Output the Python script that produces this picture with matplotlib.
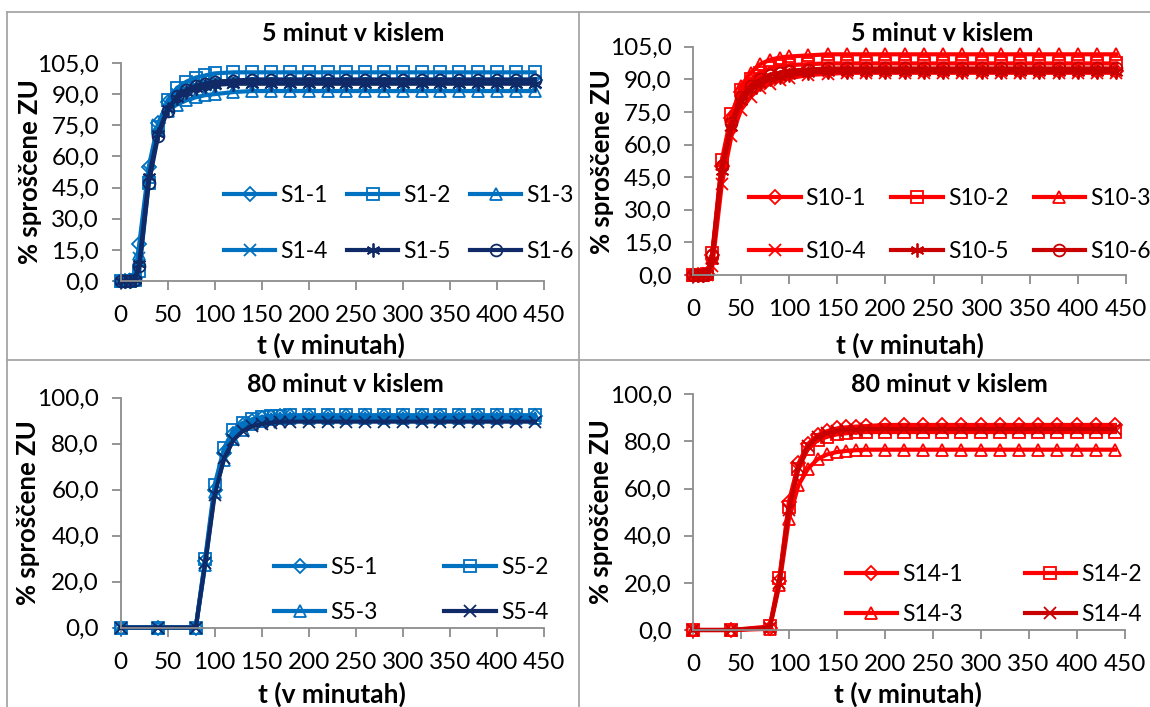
import matplotlib
matplotlib.use("Agg")
import matplotlib.pyplot as plt
from matplotlib.lines import Line2D
from matplotlib.ticker import FuncFormatter

plt.rcParams['font.family'] = ['Lato', 'DejaVu Sans']

# ---------------- data ----------------
t_top = [0, 5, 10, 15, 20, 30, 40, 50, 60, 70, 80, 90, 100, 120, 140, 160, 180,
         200, 220, 240, 260, 280, 300, 320, 340, 360, 380, 400, 420, 440]
t_bot = [0, 40, 80, 90, 100, 110, 120, 130, 140, 150, 160, 170, 180,
         200, 220, 240, 260, 280, 300, 320, 340, 360, 380, 400, 420, 440]

s1_labels = ["S1-1", "S1-2", "S1-3", "S1-4", "S1-5", "S1-6"]
s1_1 = [0, 0, 0, 1.5, 18, 55, 76, 86, 90, 92.5, 94, 95, 96, 96.5, 97, 97, 97,
        97, 97, 97, 97, 97, 97, 97, 97, 97, 97, 97, 97, 97]
s1_2 = [0, 0, 0, 0.5, 5, 47, 74, 87, 93, 96, 98, 99, 100, 100.5, 100.5, 100.5, 100.5,
        100.5, 100.5, 100.5, 100.5, 100.5, 100.5, 100.5, 100.5, 100.5, 100.5, 100.5, 100.5, 100.5]
s1_3 = [0, 0, 0, 1, 13, 50, 73, 82, 85, 87, 88.5, 89.5, 90, 91, 91.5, 91.5, 91.5,
        91.5, 91.5, 91.5, 91.5, 91.5, 91.5, 91.5, 91.5, 91.5, 91.5, 91.5, 91.5, 91.5]
s1_4 = [0, 0, 0, 1, 11, 53, 75, 85, 90, 92.5, 94, 94.5, 95, 95.5, 95.5, 95.5, 95.5,
        95.5, 95.5, 95.5, 95.5, 95.5, 95.5, 95.5, 95.5, 95.5, 95.5, 95.5, 95.5, 95.5]
s1_5 = [0, 0, 0, 0.5, 8, 50, 71, 83, 88, 91, 93, 94, 94.5, 95, 95, 95, 95,
        95, 95, 95, 95, 95, 95, 95, 95, 95, 95, 95, 95, 95]
s1_6 = [0, 0, 0, 0.5, 7, 47, 70, 82, 89, 92, 94, 95, 96, 96.5, 97, 97, 97,
        97, 97, 97, 97, 97, 97, 97, 97, 97, 97, 97, 97, 97]

s10_labels = ["S10-1", "S10-2", "S10-3", "S10-4", "S10-5", "S10-6"]
s10_1 = [0, 0, 0, 0.5, 9, 50, 72, 84, 89, 91, 92, 93, 93.5, 94, 94, 94, 94,
         94, 94, 94, 94, 94, 94, 94, 94, 94, 94, 94, 94, 94]
s10_2 = [0, 0, 0, 0.5, 10, 53, 74, 85, 90, 93, 95, 96, 96.5, 97, 97.3, 97.3, 97.3,
         97.3, 97.3, 97.3, 97.3, 97.3, 97.3, 97.3, 97.3, 97.3, 97.3, 97.3, 97.3, 97.3]
s10_3 = [0, 0, 0, 0.5, 8, 51, 73, 87, 93, 97, 99, 100, 100.5, 101, 101.5, 101.5, 101.5,
         101.5, 101.5, 101.5, 101.5, 101.5, 101.5, 101.5, 101.5, 101.5, 101.5, 101.5, 101.5, 101.5]
s10_4 = [0, 0, 0, 0, 4, 42, 64, 76, 82, 86, 88, 89.5, 90.5, 92, 92.5, 93, 93,
         93, 93, 93, 93, 93, 93, 93, 93, 93, 93, 93, 93, 93]
s10_5 = [0, 0, 0, 0.5, 7, 48, 68, 80, 85, 88, 90, 91, 92, 93, 93.5, 93.5, 93.5,
         93.5, 93.5, 93.5, 93.5, 93.5, 93.5, 93.5, 93.5, 93.5, 93.5, 93.5, 93.5, 93.5]
s10_6 = [0, 0, 0, 0.5, 9, 50, 70, 82, 87, 90, 92, 93, 94, 94.5, 95, 95, 95,
         95, 95, 95, 95, 95, 95, 95, 95, 95, 95, 95, 95, 95]

s5_labels = ["S5-1", "S5-2", "S5-3", "S5-4"]
s5_1 = [0, 0, 0, 29, 60, 76, 84, 88, 90, 91, 91.5, 92, 92,
        92, 92, 92, 92, 92, 92, 92, 92, 92, 92, 92, 92, 92]
s5_2 = [0, 0, 0, 30, 62, 78, 86, 89, 90.5, 91.5, 92, 92, 92.3,
        92.3, 92.3, 92.3, 92.3, 92.3, 92.3, 92.3, 92.3, 92.3, 92.3, 92.3, 92.3, 92.3]
s5_3 = [0, 0, 0, 27, 59, 73, 82, 86, 88.5, 90, 90.5, 91, 91,
        91, 91, 91, 91, 91, 91, 91, 91, 91, 91, 91, 91, 91]
s5_4 = [0, 0, 0, 28, 57.5, 73.5, 81.5, 85.5, 87.5, 88.5, 89, 89.5, 89.5,
        89.5, 89.5, 89.5, 89.5, 89.5, 89.5, 89.5, 89.5, 89.5, 89.5, 89.5, 89.5, 89.5]

s14_labels = ["S14-1", "S14-2", "S14-3", "S14-4"]
s14_1 = [0, 0, 1, 21, 54.5, 70.7, 79, 82.7, 84.4, 85.5, 86, 86.3, 86.5,
         87, 87, 87, 87, 87, 87, 87, 87, 87, 87, 87, 87, 87]
s14_2 = [0, 0, 1.5, 22, 52, 68.5, 77, 80.5, 82, 83, 83.5, 83.8, 84,
         84, 84, 84, 84, 84, 84, 84, 84, 84, 84, 84, 84, 84]
s14_3 = [0, 0, 0.5, 19, 47, 61.5, 68.5, 72.5, 74.5, 75.5, 76, 76.3, 76.5,
         76.5, 76.5, 76.5, 76.5, 76.5, 76.5, 76.5, 76.5, 76.5, 76.5, 76.5, 76.5, 76.5]
s14_4 = [0, 0, 1, 20, 51, 69, 78, 82, 83.5, 84.5, 85, 85, 85.3,
         85.3, 85.3, 85.3, 85.3, 85.3, 85.3, 85.3, 85.3, 85.3, 85.3, 85.3, 85.3, 85.3]

title_top = "5 minut v kislem"
title_bot = "80 minut v kislem"
xlabel = "t (v minutah)"
ylabel = "% sproščene ZU"
x_ticks = [0, 50, 100, 150, 200, 250, 300, 350, 400, 450]
y_ticks_top = [0, 15, 30, 45, 60, 75, 90, 105]
y_ticks_bot = [0, 20, 40, 60, 80, 100]

# ---------------- styles ----------------
BLUE = "#0070C0"
NAVY = "#0F2A66"
RED = "#FF0000"
DRED = "#C80000"
GRAY = "#8C8C8C"
ASTER = (6, 2, 0)
markers6 = ["D", "s", "^", "x", ASTER, "o"]
msizes6 = [7.5, 8, 9, 9, 10, 8.5]
markers4 = ["D", "s", "^", "x"]
msizes4 = [7.5, 8, 9, 9]

W, H = 1150, 707
fig = plt.figure(figsize=(W / 100, H / 100), dpi=100)
fig.patch.set_facecolor("white")


def rect(xl, xr, yb, yt):
    return [xl / W, 1 - yb / H, (xr - xl) / W, (yb - yt) / H]


def fx(x):
    return x / W


def fy(y):
    return 1 - y / H


TICK_FS = 17.5
LEG_FS = 16.5


def style_axes(ax, yticks):
    ax.set_xlim(0, 450)
    ax.set_ylim(yticks[0], yticks[-1])
    ax.set_xticks(x_ticks)
    ax.set_yticks(yticks)
    ax.yaxis.set_major_formatter(FuncFormatter(lambda v, p: f"{v:.1f}".replace(".", ",")))
    for s in ("top", "right"):
        ax.spines[s].set_visible(False)
    for s in ("left", "bottom"):
        ax.spines[s].set_color(GRAY)
        ax.spines[s].set_linewidth(1.3)
    ax.tick_params(axis="both", direction="out", length=6.5, width=1.3, color=GRAY,
                   labelsize=TICK_FS, labelcolor="black")
    ax.tick_params(axis="y", pad=9)
    ax.tick_params(axis="x", pad=11)
    ax.set_facecolor("none")


def plot_series(ax, t, series, labels, colors, markers, sizes):
    lines = []
    for y, lab, c, m, ms in zip(series, labels, colors, markers, sizes):
        ln, = ax.plot(t, y, color=c, lw=3.0, marker=m, markersize=ms, markerfacecolor="none",
                      markeredgecolor=c, markeredgewidth=1.3, label=lab, clip_on=False)
        lines.append(ln)
    return lines


# Top-left
ax1 = fig.add_axes(rect(120.5, 544, 281, 63))
l1 = plot_series(ax1, t_top, [s1_1, s1_2, s1_3, s1_4, s1_5, s1_6], s1_labels,
                 [BLUE, BLUE, BLUE, BLUE, NAVY, NAVY], markers6, msizes6)
style_axes(ax1, y_ticks_top)

# Top-right
ax2 = fig.add_axes(rect(693, 1126, 275, 46.7))
l2 = plot_series(ax2, t_top, [s10_1, s10_2, s10_3, s10_4, s10_5, s10_6], s10_labels,
                 [RED, RED, RED, RED, DRED, DRED], markers6, msizes6)
style_axes(ax2, y_ticks_top)

# Bottom-left
ax3 = fig.add_axes(rect(120.5, 544, 627.5, 397.5))
l3 = plot_series(ax3, t_bot, [s5_1, s5_2, s5_3, s5_4], s5_labels,
                 [BLUE, BLUE, BLUE, NAVY], markers4, msizes4)
style_axes(ax3, y_ticks_bot)

# Bottom-right
ax4 = fig.add_axes(rect(693, 1124.5, 630, 394.3))
l4 = plot_series(ax4, t_bot, [s14_1, s14_2, s14_3, s14_4], s14_labels,
                 [RED, RED, RED, DRED], markers4, msizes4)
style_axes(ax4, y_ticks_bot)


def add_legend(ax, lines, ncol, x, yc, labelspacing, colspacing):
    nrow = len(lines) // ncol
    # reorder so that entries fill row by row
    order = [r * ncol + c for c in range(ncol) for r in range(nrow)]
    hs = [lines[i] for i in order]
    ax.legend(hs, [h.get_label() for h in hs], ncol=ncol, loc="center left",
              bbox_to_anchor=(fx(x), fy(yc)), bbox_transform=fig.transFigure,
              frameon=False, fontsize=LEG_FS, handlelength=2.25, handletextpad=0.22,
              columnspacing=colspacing, labelspacing=labelspacing, borderpad=0,
              borderaxespad=0, numpoints=1)


add_legend(ax1, l1, 3, 223.8, 223.5, 1.56, 0.83)
add_legend(ax2, l2, 3, 749, 225, 1.43, 1.1)
add_legend(ax3, l3, 2, 273.8, 590, 1.03, 2.9)
add_legend(ax4, l4, 2, 845.6, 594.5, 0.86, 2.7)

# Titles and axis labels
TFS = 18
XFS = 19
YFS = 18.5
fig.text(fx(352.8), fy(33.3), title_top, ha="center", va="center", fontsize=TFS, fontweight="bold")
fig.text(fx(941.8), fy(33.3), title_top, ha="center", va="center", fontsize=TFS, fontweight="bold")
fig.text(fx(345), fy(384.3), title_bot, ha="center", va="center", fontsize=TFS, fontweight="bold")
fig.text(fx(949), fy(384.3), title_bot, ha="center", va="center", fontsize=TFS, fontweight="bold")

for xc, yc in [(331, 345), (910, 345), (332, 694), (908, 694)]:
    fig.text(fx(xc), fy(yc), xlabel, ha="center", va="center", fontsize=XFS, fontweight="bold")
for xc, yc in [(30, 172), (602.5, 162), (28, 513), (600.7, 512)]:
    fig.text(fx(xc), fy(yc), ylabel, ha="center", va="center", fontsize=YFS,
             fontweight="bold", rotation=90)

# Chart box borders
BC = "#A6A6A6"
for (xa, ya, xb, yb) in [(7, 12, 1150, 12), (7, 12, 7, 707), (578.5, 12, 578.5, 707),
                         (7, 360, 1150, 360)]:
    fig.add_artist(Line2D([fx(xa), fx(xb)], [fy(ya), fy(yb)], transform=fig.transFigure,
                          color=BC, lw=1.3))

fig.savefig("out.png", dpi=100, facecolor="white")
